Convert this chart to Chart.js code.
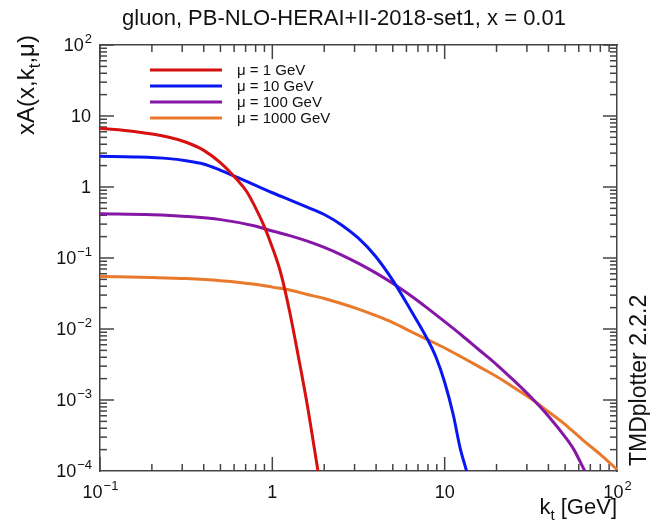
<!DOCTYPE html>
<html>
<head>
<meta charset="utf-8">
<script src="https://cdn.jsdelivr.net/npm/chart.js@4.4.0/dist/chart.umd.min.js"></script>
<style>
  html, body { margin: 0; padding: 0; background: #fff; }
  #wrap { width: 650px; height: 527px; }
</style>
</head>
<body>
<div id="wrap"><canvas id="tmdCanvas" width="650" height="527"></canvas></div>
<script>
// values (gluon, x = 0.01)
const kt_mu1 = [0.1, 0.158, 0.251, 0.316, 0.398, 0.501, 0.631, 0.708, 0.794, 0.891, 1.0, 1.122, 1.259, 1.413, 1.585, 1.84];
const xA_mu1 = [6.7, 6.03, 5.01, 4.27, 3.31, 2.19, 1.23, 0.87, 0.525, 0.29, 0.141, 0.060, 0.0178, 0.0042, 0.00093, 0.0001];

const kt_mu10 = [0.1, 0.158, 0.251, 0.316, 0.398, 0.501, 0.631, 0.794, 1.0, 1.26, 1.58, 2.0, 2.51, 3.16, 3.98, 5.01, 6.31, 7.94, 8.91, 10.0, 11.2, 12.3, 13.4];
const xA_mu10 = [2.7, 2.65, 2.51, 2.34, 2.11, 1.72, 1.36, 1.06, 0.83, 0.66, 0.525, 0.41, 0.295, 0.19, 0.105, 0.048, 0.019, 0.0072, 0.004, 0.00178, 0.00063, 0.00021, 0.0001];

const kt_mu100 = [0.1, 0.2, 0.316, 0.501, 0.794, 1.0, 1.26, 1.58, 2.0, 2.51, 3.16, 3.98, 5.01, 6.31, 7.94, 10.0, 12.6, 15.8, 20.0, 25.1, 31.6, 39.8, 50.1, 56.2, 65];
const xA_mu100 = [0.42, 0.407, 0.385, 0.347, 0.282, 0.24, 0.2065, 0.174, 0.141, 0.111, 0.0841, 0.0617, 0.0437, 0.0299, 0.0197, 0.0127, 0.0081, 0.0051, 0.00316, 0.0019, 0.0011, 0.0006, 0.0003, 0.0002, 0.0001];

const kt_mu1000 = [0.1, 0.2, 0.316, 0.501, 0.794, 1.0, 1.26, 1.58, 2.0, 2.51, 3.16, 3.98, 5.01, 6.31, 7.94, 10.0, 12.6, 15.8, 20.0, 25.1, 31.6, 39.8, 50.1, 63.1, 79.4, 100];
const xA_mu1000 = [0.055, 0.0531, 0.0513, 0.0479, 0.0427, 0.0389, 0.0355, 0.0309, 0.0269, 0.0229, 0.0191, 0.0155, 0.0123, 0.0093, 0.0071, 0.0054, 0.004, 0.00295, 0.00214, 0.00151, 0.00105, 0.00069, 0.00045, 0.000275, 0.000174, 0.000105];

const seriesLabels = ['\u03bc = 1 GeV', '\u03bc = 10 GeV', '\u03bc = 100 GeV', '\u03bc = 1000 GeV'];
const seriesColors = ['#d6100f', '#0a16f2', '#8616a6', '#e9792b'];

const xTicks = [0.1, 1, 10, 100];
const xTickLabels = ['10^\u22121', '1', '10', '10^2'];
const yTicks = [1e-4, 1e-3, 1e-2, 1e-1, 1, 10, 100];
const yTickLabels = ['10^\u22124', '10^\u22123', '10^\u22122', '10^\u22121', '1', '10', '10^2'];

const FONT = '"Liberation Sans", Arial, Helvetica, sans-serif';
const AXIS_COLOR = '#444444';
const X_MIN = xTicks[0], X_MAX = xTicks[xTicks.length - 1];
const Y_MIN = yTicks[0], Y_MAX = yTicks[yTicks.length - 1];

function pts(xs, ys) {
  return xs.map((k, i) => ({ x: k, y: ys[i] }));
}

// 2..9 x each decade below the last major tick
function minorsOf(majors) {
  const out = [];
  majors.slice(0, -1).forEach(v => {
    for (let m = 2; m <= 9; m++) out.push(m * v);
  });
  return out;
}

// log axis that only draws its border line
function logAxis(axis, pos, majors) {
  const horizontal = axis === 'x';
  return {
    type: 'logarithmic',
    axis: axis,
    position: pos,
    min: majors[0],
    max: majors[majors.length - 1],
    ticks: { display: false },
    grid: { display: false },
    border: { display: true, color: AXIS_COLOR, width: 1.5 },
    afterFit: s => { if (horizontal) s.height = 0; else s.width = 0; }
  };
}

// ROOT-style inward tick marks as 'line' point markers sitting on the frame;
// the half outside the plot area is clipped away
function tickMarks(values, majors, onX, edge) {
  return {
    isTick: true,
    data: values.map(v => onX ? { x: v, y: edge } : { x: edge, y: v }),
    showLine: false,
    pointStyle: 'line',
    pointRotation: onX ? 90 : 0,
    pointRadius: values.map(v => majors.includes(v) ? 14 : 7),
    pointHoverRadius: 0,
    pointBorderColor: AXIS_COLOR,
    borderColor: AXIS_COLOR,
    pointBorderWidth: 1.5,
    borderWidth: 1.5
  };
}

// base^exp label, ROOT style
function drawPow(ctx, label, x, y, align, size) {
  const parts = label.split('^');
  const base = parts[0], exp = parts[1];
  const es = Math.round(size * 0.72);
  ctx.font = size + 'px ' + FONT;
  const wb = ctx.measureText(base).width;
  let we = 0;
  if (exp) { ctx.font = es + 'px ' + FONT; we = ctx.measureText(exp).width; }
  const w = wb + we;
  const x0 = align === 'right' ? x - w : align === 'center' ? x - w / 2 : x;
  ctx.textAlign = 'left';
  ctx.textBaseline = 'alphabetic';
  ctx.font = size + 'px ' + FONT;
  ctx.fillText(base, x0, y);
  if (exp) {
    ctx.font = es + 'px ' + FONT;
    ctx.fillText(exp, x0 + wb + 1, y - size * 0.45);
  }
}

// text with one subscript piece: [before, sub, after]
function drawSub(ctx, pieces, x, y, align, size) {
  const ss = Math.round(size * 0.7);
  ctx.font = size + 'px ' + FONT;
  const w0 = ctx.measureText(pieces[0]).width;
  const w2 = ctx.measureText(pieces[2]).width;
  ctx.font = ss + 'px ' + FONT;
  const w1 = ctx.measureText(pieces[1]).width;
  const w = w0 + w1 + w2;
  const x0 = align === 'right' ? x - w : align === 'center' ? x - w / 2 : x;
  ctx.textAlign = 'left';
  ctx.textBaseline = 'alphabetic';
  ctx.font = size + 'px ' + FONT;
  ctx.fillText(pieces[0], x0, y);
  ctx.font = ss + 'px ' + FONT;
  ctx.fillText(pieces[1], x0 + w0, y + size * 0.25);
  ctx.font = size + 'px ' + FONT;
  ctx.fillText(pieces[2], x0 + w0 + w1, y);
}

const xAll = xTicks.concat(minorsOf(xTicks));
const yAll = yTicks.concat(minorsOf(yTicks));

const rootText = {
  id: 'rootText',
  afterDraw(chart) {
    const ctx = chart.ctx;
    const { left, right, bottom } = chart.chartArea;
    const xs = chart.scales.x, ys = chart.scales.y;
    ctx.save();
    ctx.fillStyle = '#111';

    // tick labels
    xTicks.forEach((v, i) => {
      drawPow(ctx, xTickLabels[i], xs.getPixelForValue(v), bottom + 27, 'center', 18);
    });
    yTicks.forEach((v, i) => {
      drawPow(ctx, yTickLabels[i], left - 9, ys.getPixelForValue(v) + 6, 'right', 18);
    });

    // title
    ctx.font = '22px ' + FONT;
    ctx.textAlign = 'center';
    ctx.fillText('gluon, PB-NLO-HERAI+II-2018-set1, x = 0.01', 344, 25);

    // axis titles
    drawSub(ctx, ['k', 't', ' [GeV]'], right, bottom + 43, 'right', 22);
    ctx.save();
    ctx.translate(34, 85);
    ctx.rotate(-Math.PI / 2);
    drawSub(ctx, ['xA(x,k', 't', ',\u03bc)'], 0, 0, 'center', 24);
    ctx.restore();

    ctx.save();
    ctx.translate(646, 466);
    ctx.rotate(-Math.PI / 2);
    ctx.font = '23px ' + FONT;
    ctx.textAlign = 'left';
    ctx.fillText('TMDplotter 2.2.2', 0, 0);
    ctx.restore();

    // legend
    chart.data.datasets.filter(ds => !ds.isTick).forEach((ds, i) => {
      const y = 70 + 16 * i;
      ctx.strokeStyle = ds.borderColor;
      ctx.lineWidth = 3;
      ctx.beginPath();
      ctx.moveTo(150, y); ctx.lineTo(222, y);
      ctx.stroke();
      ctx.fillStyle = '#111';
      ctx.font = '15px ' + FONT;
      ctx.textAlign = 'left';
      ctx.fillText(ds.label, 237, y + 5);
    });
    ctx.restore();
  }
};

const series = [[kt_mu1, xA_mu1], [kt_mu10, xA_mu10], [kt_mu100, xA_mu100], [kt_mu1000, xA_mu1000]];

const curveSets = series.map((s, i) => ({
  label: seriesLabels[i],
  data: pts(s[0], s[1]),
  borderColor: seriesColors[i],
  borderWidth: 3,
  pointRadius: 0,
  fill: false,
  cubicInterpolationMode: 'monotone'
}));

const tickSets = [
  tickMarks(xAll, xTicks, true, Y_MIN),
  tickMarks(xAll, xTicks, true, Y_MAX),
  tickMarks(yAll, yTicks, false, X_MIN),
  tickMarks(yAll, yTicks, false, X_MAX)
];

new Chart(document.getElementById('tmdCanvas').getContext('2d'), {
  type: 'line',
  data: { datasets: curveSets.concat(tickSets) },
  options: {
    responsive: false,
    animation: false,
    events: [],
    devicePixelRatio: 1,
    layout: { padding: { left: 100, right: 33, top: 45, bottom: 56 } },
    plugins: { legend: { display: false }, tooltip: { enabled: false } },
    scales: {
      x: logAxis('x', 'bottom', xTicks),
      xTop: logAxis('x', 'top', xTicks),
      y: logAxis('y', 'left', yTicks),
      yRight: logAxis('y', 'right', yTicks)
    }
  },
  plugins: [rootText]
});
</script>
</body>
</html>
